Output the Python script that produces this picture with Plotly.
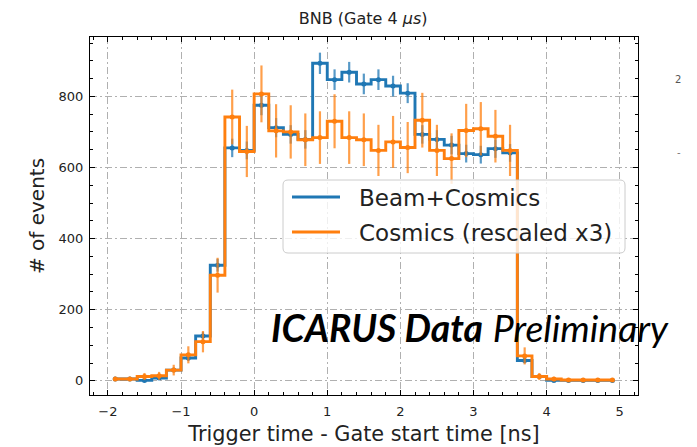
import plotly.graph_objects as go

# Bin centres of the trigger-time histogram [ns], bin width 0.2
centers = [-1.9, -1.7, -1.5, -1.3, -1.1, -0.9, -0.7, -0.5, -0.3, -0.1,
           0.1, 0.3, 0.5, 0.7, 0.9, 1.1, 1.3, 1.5, 1.7, 1.9,
           2.1, 2.3, 2.5, 2.7, 2.9, 3.1, 3.3, 3.5, 3.7, 3.9,
           4.1, 4.3, 4.5, 4.7, 4.9]

# Beam+Cosmics counts and their uncertainties
beam = [5, 5, 1, 8, 30, 64, 126, 325, 655, 648,
        775, 712, 693, 679, 893, 847, 868, 835, 847, 829,
        809, 693, 679, 663, 639, 636, 653, 641, 57, 12,
        1, 1, 1, 1, 1]
beam_err = [2, 2, 1, 3, 5, 8, 11, 18, 26, 25,
            28, 27, 26, 26, 30, 29, 29, 29, 29, 29,
            28, 26, 26, 26, 25, 25, 26, 25, 8, 3,
            1, 1, 1, 1, 1]

# Cosmics-only counts (rescaled x3) and their uncertainties
cosmics = [5, 5, 12, 14, 30, 73, 110, 297, 742, 645,
           807, 703, 700, 678, 684, 730, 684, 678, 648, 672,
           656, 733, 648, 625, 704, 709, 688, 648, 70, 12,
           5, 2, 2, 2, 2]
cosmics_err = [6, 6, 10, 11, 15, 24, 30, 49, 77, 72,
               80, 75, 75, 74, 74, 76, 74, 74, 72, 73,
               72, 77, 72, 71, 75, 75, 74, 72, 24, 10,
               6, 4, 4, 4, 4]

x_ticks = [-2, -1, 0, 1, 2, 3, 4, 5]
y_ticks = [0, 200, 400, 600, 800]

BLUE = "#1f77b4"
ORANGE = "#ff7f0e"
FONT = "DejaVu Sans"
TEXT = "#222"

# plot-area geometry in pixels (figure 697 x 447)
L, R, T, B = 90, 638, 37, 395
W, H = R - L, B - T


def px(xp):
    return (xp - L) / W


def py(yp):
    return (B - yp) / H


fig = go.Figure()

series = [
    ("Beam+Cosmics", beam, beam_err, BLUE, "rgba(31,119,180,0.75)"),
    ("Cosmics (rescaled x3)", cosmics, cosmics_err, ORANGE, "rgba(255,127,14,0.75)"),
]
for name, vals, errs, col, errcol in series:
    # step outline of the histogram
    fig.add_trace(go.Scatter(
        x=centers, y=vals, mode="lines", name=name, showlegend=False,
        line=dict(color=col, width=2.9, shape="hvh"), hoverinfo="skip",
    ))
    # per-bin statistical error bars
    fig.add_trace(go.Scatter(
        x=centers, y=vals, mode="markers", showlegend=False,
        marker=dict(color=col, size=5),
        error_y=dict(type="data", array=errs, visible=True,
                     color=errcol, thickness=2.2, width=0),
        hoverinfo="skip",
    ))

grid_dash = "7px,3px,2px,3px"
axis_common = dict(
    showline=True, linecolor="black", linewidth=1.2, mirror="allticks",
    ticks="inside", ticklen=5, tickwidth=1, tickcolor="black",
    showgrid=True, gridcolor="#b0b0b0", gridwidth=1, griddash=grid_dash,
    zeroline=False, automargin=False,
    tickfont=dict(family=FONT, size=13, color=TEXT),
)

fig.update_xaxes(
    range=[-2.245, 5.25], tickvals=x_ticks,
    minor=dict(dtick=0.2, tick0=0, ticks="inside", ticklen=2.5,
               tickcolor="black", showgrid=False),
    title=dict(text="Trigger time - Gate start time [ns]",
               font=dict(family=FONT, size=20.8, color=TEXT), standoff=8),
    ticklabelstandoff=4,
    **axis_common,
)
fig.update_yaxes(
    range=[-40, 967], tickvals=y_ticks,
    minor=dict(dtick=50, tick0=0, ticks="inside", ticklen=2.5,
               tickcolor="black", showgrid=False),
    title=dict(text="# of events",
               font=dict(family=FONT, size=20, color=TEXT), standoff=8),
    ticklabelstandoff=3,
    **axis_common,
)

# legend box with two line samples
leg_x0, leg_x1, leg_y0, leg_y1, rad = 283, 625, 180, 253, 5
box_path = (
    f"M {px(leg_x0 + rad)} {py(leg_y0)} L {px(leg_x1 - rad)} {py(leg_y0)} "
    f"Q {px(leg_x1)} {py(leg_y0)} {px(leg_x1)} {py(leg_y0 + rad)} "
    f"L {px(leg_x1)} {py(leg_y1 - rad)} "
    f"Q {px(leg_x1)} {py(leg_y1)} {px(leg_x1 - rad)} {py(leg_y1)} "
    f"L {px(leg_x0 + rad)} {py(leg_y1)} "
    f"Q {px(leg_x0)} {py(leg_y1)} {px(leg_x0)} {py(leg_y1 - rad)} "
    f"L {px(leg_x0)} {py(leg_y0 + rad)} "
    f"Q {px(leg_x0)} {py(leg_y0)} {px(leg_x0 + rad)} {py(leg_y0)} Z"
)
shapes = [dict(type="path", xref="paper", yref="paper", path=box_path,
               fillcolor="rgba(255,255,255,0.8)",
               line=dict(color="#cccccc", width=1), layer="above")]
annotations = []
for (name, _, _, col, _), yl in zip(series, [197, 232]):
    shapes.append(dict(type="line", xref="paper", yref="paper",
                       x0=px(292), x1=px(340), y0=py(yl), y1=py(yl),
                       line=dict(color=col, width=2.8), layer="above"))
    annotations.append(dict(text=name, xref="paper", yref="paper",
                            x=px(357), y=py(yl + 1), xanchor="left",
                            yanchor="middle", showarrow=False,
                            font=dict(family=FONT, size=23, color=TEXT)))

annotations += [
    dict(text="<b><i>ICARUS Data</i></b> <i>Preliminary</i>",
         xref="paper", yref="paper", x=0.327, y=0.1877,
         xanchor="left", yanchor="middle", showarrow=False,
         font=dict(family="Lato", size=37.4, color="black")),
    dict(text="2", xref="paper", yref="paper", x=px(683), y=py(72),
         showarrow=False, font=dict(family=FONT, size=10, color="#555")),
    dict(text="-", xref="paper", yref="paper", x=px(683), y=py(145),
         showarrow=False, font=dict(family=FONT, size=10, color="#777")),
]

fig.update_layout(
    width=697, height=447,
    margin=dict(l=L, r=697 - R, t=T, b=447 - B),
    paper_bgcolor="white", plot_bgcolor="white",
    showlegend=False,
    title=dict(text="BNB (Gate 4 <i>μs</i>)", x=0.521, xanchor="center",
               y=0.958, yanchor="middle",
               font=dict(family=FONT, size=16, color=TEXT)),
    shapes=shapes,
    annotations=annotations,
)

fig.write_html("out.html")
